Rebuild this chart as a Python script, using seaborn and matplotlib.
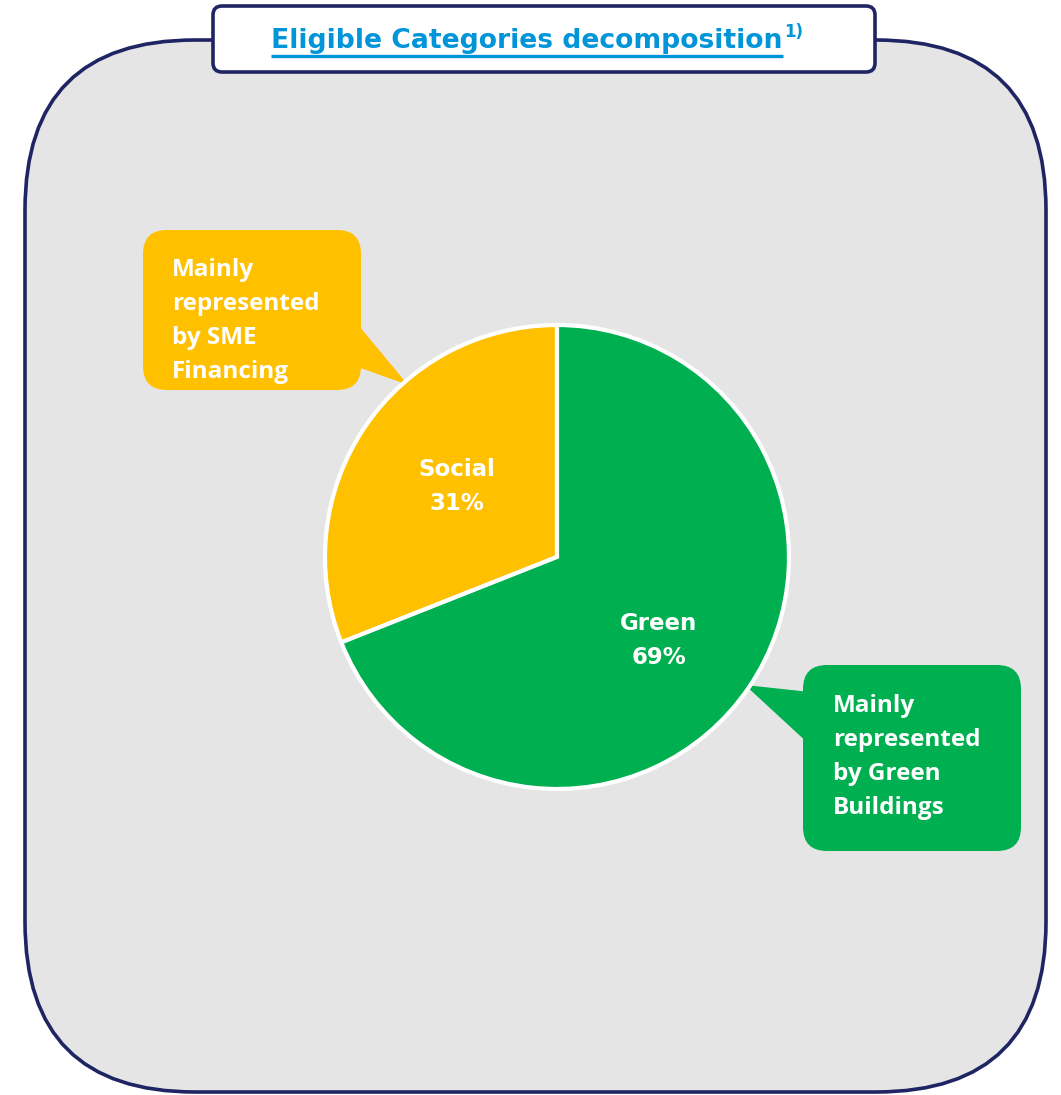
import matplotlib
matplotlib.use("Agg")
import matplotlib.pyplot as plt
from matplotlib.patches import FancyBboxPatch, Polygon
import seaborn as sns

# Eligible category shares (%)
categories = ["Social", "Green"]
shares = [31, 69]
callout_texts = ["Mainly\nrepresented\nby SME\nFinancing",
                 "Mainly\nrepresented\nby Green\nBuildings"]
title_text = "Eligible Categories decomposition"
title_note = "1)"

sns.set_theme(style="white")
plt.rcParams["font.family"] = ["DejaVu Sans"]

palette = sns.color_palette(["#FFC000", "#00B050"])
navy = "#1F2463"
title_blue = "#0094D8"
panel_grey = "#E5E5E5"

W, H = 1061, 1095
fig = plt.figure(figsize=(W / 100, H / 100), dpi=100)
fig.patch.set_facecolor("white")

# Background canvas in pixel units (y grows downward)
bg = fig.add_axes([0, 0, 1, 1])
bg.set_xlim(0, W)
bg.set_ylim(H, 0)
bg.set_aspect("equal")
bg.axis("off")

# Rounded grey panel
panel = FancyBboxPatch((25, 40), 1021, 1052,
                       boxstyle="round,pad=0,rounding_size=170",
                       facecolor=panel_grey, edgecolor=navy, linewidth=2.6,
                       zorder=1)
bg.add_patch(panel)

# Title box
title_box = FancyBboxPatch((213, 6), 662, 66,
                           boxstyle="round,pad=0,rounding_size=9",
                           facecolor="white", edgecolor=navy, linewidth=2.6,
                           zorder=3)
bg.add_patch(title_box)
t = bg.text(527, 41, title_text, ha="center", va="center", fontsize=19.2,
            fontweight="bold", color=title_blue, zorder=4)

# Callout bubbles
callout_font = dict(ha="left", va="center", fontsize=17.5, fontweight="bold",
                    color="white", linespacing=1.56, zorder=3,
                    family=["Open Sans", "DejaVu Sans"])

yellow_box = FancyBboxPatch((143, 230), 218, 160,
                            boxstyle="round,pad=0,rounding_size=24",
                            facecolor=palette[0], edgecolor="none", zorder=2)
bg.add_patch(yellow_box)
bg.add_patch(Polygon([(355, 321), (355, 366), (408, 385)], closed=True,
                     facecolor=palette[0], edgecolor="none", zorder=2))
bg.text(172, 321, callout_texts[0], **callout_font)

green_box = FancyBboxPatch((803, 665), 218, 186,
                           boxstyle="round,pad=0,rounding_size=24",
                           facecolor=palette[1], edgecolor="none", zorder=2)
bg.add_patch(green_box)
bg.add_patch(Polygon([(810, 692), (810, 745), (745, 685)], closed=True,
                     facecolor=palette[1], edgecolor="none", zorder=2))
bg.text(833, 757, callout_texts[1], **callout_font)

# Pie chart
cx, cy, r = 557, 557, 232
pie_ax = fig.add_axes([(cx - r) / W, (H - cy - r) / H, 2 * r / W, 2 * r / H])
pie_ax.set_facecolor("none")
labels = [f"{c}\n{v}%" for c, v in zip(categories, shares)]
wedges, texts = pie_ax.pie(shares, labels=labels, colors=palette,
                           startangle=90, counterclock=True,
                           labeldistance=0.56,
                           wedgeprops=dict(edgecolor="white", linewidth=3),
                           textprops=dict(color="white", fontsize=16.5,
                                          fontweight="bold"))
# small nudges of the in-slice labels
nudges = [(0.03, -0.01), (-0.025, -0.045)]
for tx, (dx, dy) in zip(texts, nudges):
    tx.set_ha("center")
    tx.set_va("center")
    tx.set_linespacing(1.6)
    x, y = tx.get_position()
    tx.set_position((x + dx, y + dy))
pie_ax.set_xlim(-1, 1)
pie_ax.set_ylim(-1, 1)
pie_ax.set_aspect("equal")
pie_ax.axis("off")

# Underline and note for the title
fig.canvas.draw()
renderer = fig.canvas.get_renderer()
bb = t.get_window_extent(renderer).transformed(bg.transData.inverted())
x0, x1 = bb.x0, bb.x1
bg.plot([x0, x1], [56, 56], color=title_blue, linewidth=2.4, zorder=4,
        solid_capstyle="butt")
bg.text(x1 + 1, 32, title_note, ha="left", va="center", fontsize=12,
        fontweight="bold", color=title_blue, zorder=4)

fig.savefig("out.png", dpi=100, facecolor="white")
